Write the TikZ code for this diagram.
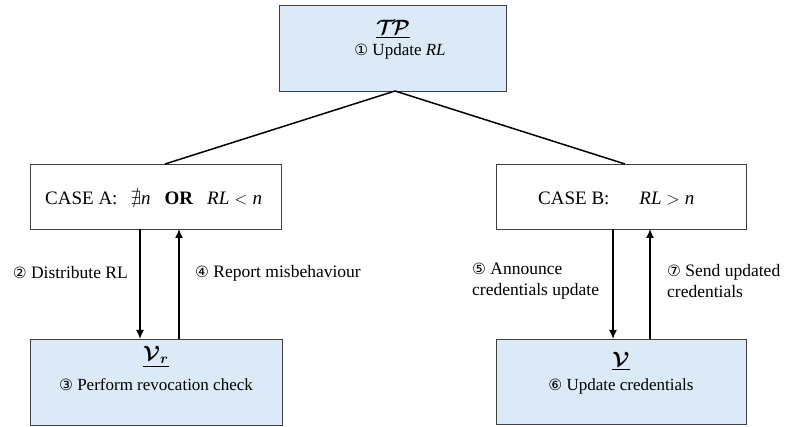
\documentclass[tikz,border=0pt]{standalone}
\usepackage{amssymb,bm}
\usepackage{fontspec}
\setmainfont{Liberation Serif}
\newfontfamily\circfont{DejaVu Sans}
\usetikzlibrary{arrows.meta}
\newcommand{\cnum}[1]{{\circfont\fontsize{15.5}{15}\selectfont #1}}
\definecolor{boxblue}{HTML}{DCE9F6}
\definecolor{boxline}{HTML}{404040}
\begin{document}
\begin{tikzpicture}[x=1pt,y=-1pt,
  box/.style={draw=boxline,line width=1pt,anchor=north west,inner sep=0pt},
  bluebox/.style={box,fill=boxblue},
  txt/.style={inner sep=0pt,font=\rmfamily\fontsize{17}{20}\selectfont},
  big/.style={inner sep=0pt,font=\rmfamily\fontsize{19}{20}\selectfont},
  huge/.style={inner sep=0pt,font=\rmfamily\fontsize{21}{22}\selectfont},
  lbl/.style={inner sep=0pt,font=\rmfamily\fontsize{17.5}{20.5}\selectfont,align=left},
  conn/.style={line width=1.5pt},
  arr/.style={line width=1.5pt,-{Latex[length=9pt,width=8pt]}}]
\useasboundingbox (0,0) rectangle (785,427);
% boxes
\node[bluebox,minimum width=227pt,minimum height=86pt] (tp) at (279,5) {};
\node[box,fill=white,minimum width=251pt,minimum height=65pt] (ca) at (30,164) {};
\node[box,fill=white,minimum width=250pt,minimum height=65pt] (cb) at (496,164) {};
\node[bluebox,minimum width=252pt,minimum height=86pt] (vr) at (30,339) {};
\node[bluebox,minimum width=250pt,minimum height=85pt] (vv) at (496,339) {};
% coordinates
\coordinate (apex) at (395,91);
\coordinate (caT) at (165,164);
\coordinate (cbT) at (625,164);
\draw[conn] (apex) -- (caT);
\draw[conn] (apex) -- (cbT);
% texts in boxes
\node[huge] (tpname) at (393,29) {$\underline{\bm{\mathcal{T}\!\mathcal{P}}}$};
\node[txt] (tpact) at (400,51) {\cnum{①} Update \textit{RL}};
\node[big,anchor=west] (catext) at (45,198) {CASE A:\hspace{13pt}$\nexists$\textit{n}\hspace{14pt}\textbf{OR}\hspace{14pt}\textit{RL}\hspace{5pt}$<$\hspace{5pt}\textit{n}};
\node[big,anchor=west] (cbtext) at (538,198) {CASE B:\hspace{30pt}\textit{RL}\hspace{5pt}$>$\hspace{5pt}\textit{n}};
\node[huge] (vrname) at (156,357) {$\underline{\bm{\mathcal{V}}_{\bm{r}}}$};
\node[txt] (vract) at (156,385) {\cnum{③} Perform revocation check};
\node[huge] (vname) at (621,361) {$\underline{\bm{\mathcal{V}}}$};
\node[txt] (vact) at (621,386) {\cnum{⑥} Update credentials};
% arrows
\coordinate (a1s) at (140,229); \coordinate (a1e) at (140,339);
\coordinate (a2s) at (179,339); \coordinate (a2e) at (179,229);
\coordinate (b1s) at (613,229); \coordinate (b1e) at (613,339);
\coordinate (b2s) at (650,339); \coordinate (b2e) at (650,229);
\draw[arr] (a1s) -- (a1e);
\draw[arr] (a2s) -- (a2e);
\draw[arr] (b1s) -- (b1e);
\draw[arr] (b2s) -- (b2e);
% labels
\node[lbl,anchor=east] (l2) at (128,273) {\cnum{②} Distribute RL};
\node[lbl,anchor=west] (l4) at (195,273) {\cnum{④} Report misbehaviour};
\node[lbl,anchor=west] (l5) at (472,281) {\cnum{⑤} Announce\\credentials update};
\node[lbl,anchor=west] (l7) at (667,281) {\cnum{⑦} Send updated\\credentials};
\end{tikzpicture}
\end{document}
